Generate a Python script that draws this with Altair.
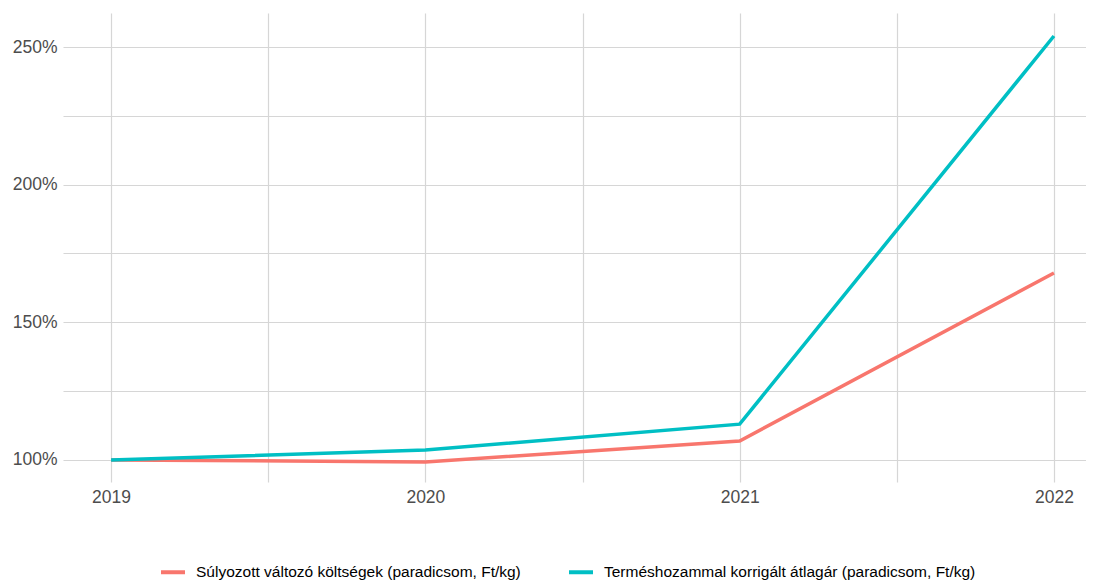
import altair as alt
import pandas as pd

years = [2019, 2020, 2021, 2022]
series_names = [
    "Súlyozott változó költségek (paradicsom, Ft/kg)",
    "Terméshozammal korrigált átlagár (paradicsom, Ft/kg)",
]
cost_values = [1.000, 0.993, 1.069, 1.679]
price_values = [1.000, 1.036, 1.130, 2.540]
colors = ["#F8766D", "#00BFC4"]

rows = []
for y, v in zip(years, cost_values):
    rows.append({"year": y, "value": v, "series": series_names[0]})
for y, v in zip(years, price_values):
    rows.append({"year": y, "value": v, "series": series_names[1]})
df = pd.DataFrame(rows)

grid = "#D6D6D6"
label_col = "#4D4D4D"

chart = alt.Chart(df).mark_line(strokeWidth=3.5, clip=True).encode(
    x=alt.X(
        "year:Q",
        scale=alt.Scale(domain=[2018.847, 2022.102], nice=False, zero=False),
        axis=alt.Axis(
            title=None,
            values=[2019, 2019.5, 2020, 2020.5, 2021, 2021.5, 2022],
            labelExpr="datum.value % 1 == 0 ? format(datum.value, 'd') : ''",
            ticks=False,
            domain=False,
            grid=True,
            gridColor=grid,
            gridWidth=1.2,
            labelColor=label_col,
            labelFont="Liberation Sans",
            labelFontSize=17.5,
            labelPadding=6,
            labelFlush=False,
        ),
    ),
    y=alt.Y(
        "value:Q",
        scale=alt.Scale(domain=[0.92, 2.6235], nice=False, zero=False),
        axis=alt.Axis(
            title=None,
            values=[1.0, 1.25, 1.5, 1.75, 2.0, 2.25, 2.5],
            labelExpr="(round(datum.value*100) % 50 == 0) ? format(datum.value, '.0%') : ''",
            ticks=False,
            domain=False,
            grid=True,
            gridColor=grid,
            gridWidth=1.2,
            labelColor=label_col,
            labelFont="Liberation Sans",
            labelFontSize=17.5,
            labelPadding=6,
        ),
    ),
    color=alt.Color(
        "series:N",
        scale=alt.Scale(domain=series_names, range=colors),
        legend=alt.Legend(
            title=None,
            orient="none",
            legendX=96,
            legendY=545,
            direction="horizontal",
            symbolType="stroke",
            symbolSize=576,
            symbolStrokeWidth=4,
            labelFont="Liberation Sans",
            labelFontSize=15.5,
            labelColor="#000000",
            labelOffset=9,
            labelLimit=500,
            columnPadding=40,
            padding=0,
        ),
    ),
).properties(
    width=1023,
    height=469,
    padding={"left": 55, "top": 5, "right": 0, "bottom": 99},
    autosize=alt.AutoSizeParams(type="none"),
).configure_view(stroke=None)

chart.save("out.html", embed_options={"renderer": "svg", "actions": False})
